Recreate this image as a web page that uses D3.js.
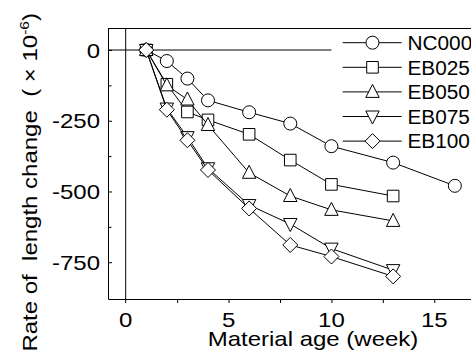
<!DOCTYPE html>
<meta charset="utf-8">
<style>
body { margin: 0; background: #fff; }
svg { display: block; }
text { font-family: "Liberation Sans", Arial, sans-serif; font-size: 20px; fill: #000; white-space: pre; }
.line { fill: none; stroke: #000; stroke-width: 1px; }
.mark { fill: #fff; stroke: #000; stroke-width: 1px; }
.axis path, .axis line { stroke: #000; stroke-width: 1px; }
</style>
<svg width="471" height="354"></svg>
<script src="https://d3js.org/d3.v7.min.js"></script>
<script>

// values
var weeks = [1, 2, 3, 4, 6, 8, 10, 13, 16];
var seriesNames = ["NC000", "EB025", "EB050", "EB075", "EB100"];
var markerTypes = ["circle", "square", "up", "down", "diamond"];
var nc000 = [0, -39, -101, -178, -220, -260, -340, -398, -480];
var eb025 = [0, -121, -219, -247, -298, -389, -475, -516];
var eb050 = [0, -125, -175, -265, -434, -516, -565, -604];
var eb075 = [0, -207, -308, -418, -548, -615, -702, -778];
var eb100 = [0, -211, -319, -424, -560, -689, -730, -800];
var seriesValues = [nc000, eb025, eb050, eb075, eb100];

var xMajor = [0, 5, 10, 15];
var xTicks = [2.5, 5, 7.5, 10, 12.5, 15, 17.5];
var yMajor = [0, -250, -500, -750];
var yMinor = [-125, -375, -625];

var svg = d3.select("svg");

var x = d3.scaleLinear().domain([-0.86, 17.5]).range([108, 485.7]),
    y = d3.scaleLinear().domain([-880, 76]).range([299, 28.5]);

var sx = 1.2;   // axis text is stretched along the baseline
var lsx = 1.04; // legend text a lot less

// markers, centred on 0,0
function marker(type) {
  if (type == "circle") return "M6.5,0A6.5,6.5 0 1,1 -6.5,0A6.5,6.5 0 1,1 6.5,0Z";
  if (type == "square") return "M-5.8,-5.8H5.8V5.8H-5.8Z";
  if (type == "up") return "M0,-7.5L6.7,5.5H-6.7Z";
  if (type == "down") return "M0,7.5L6.7,-5.5H-6.7Z";
  return "M0,-7.5L7.5,0L0,7.5L-7.5,0Z";
}

// frame top
svg.append("line")
    .attr("x1", x(-0.86)).attr("x2", 471)
    .attr("y1", y(76)).attr("y2", y(76))
    .attr("stroke", "#000");

// bottom axis
var gx = svg.append("g")
    .attr("class", "axis")
    .attr("transform", "translate(0," + y(-880) + ")")
    .call(d3.axisBottom(x).tickValues(xTicks).tickSize(4).tickSizeOuter(0).tickFormat(""));

xMajor.forEach(function(v) {
  svg.append("text")
      .attr("transform", "translate(" + x(v) + "," + (y(-880) + 27.7) + ") scale(" + sx + ",1)")
      .attr("text-anchor", "middle")
      .text(v);
});

// left axis, ticks pointing inwards
var gy = svg.append("g")
    .attr("class", "axis")
    .attr("transform", "translate(" + x(-0.86) + ",0)")
    .call(d3.axisLeft(y).tickValues(yMajor.concat(yMinor)).tickSize(-4).tickSizeOuter(0)
      .tickFormat(function(d) { return yMajor.indexOf(d) >= 0 ? String(d) : ""; }));

gy.selectAll(".tick text")
    .attr("x", -8 / sx)
    .attr("dy", "0.36em")
    .attr("transform", "scale(" + sx + ",1)")
    .style("font-size", "20px")
    .style("font-family", "'Liberation Sans', Arial, sans-serif");
gy.selectAll(".tick line").filter(function(d) { return yMinor.indexOf(d) >= 0; }).attr("x2", 3.5);

// zero lines
svg.append("line")
    .attr("x1", x(0)).attr("x2", x(0))
    .attr("y1", y(76)).attr("y2", y(-880) + 4)
    .attr("stroke", "#000");
svg.append("line")
    .attr("x1", x(-0.86)).attr("x2", x(10))
    .attr("y1", y(0)).attr("y2", y(0))
    .attr("stroke", "#000");

// series
var line = d3.line()
    .x(function(d) { return x(d.week); })
    .y(function(d) { return y(d.value); });

seriesNames.forEach(function(name, i) {
  var pts = seriesValues[i].map(function(v, j) { return {week: weeks[j], value: v}; });
  var g = svg.append("g").attr("class", "series");
  g.append("path").attr("class", "line").attr("d", line(pts));
  g.selectAll("path.mark")
      .data(pts)
    .enter().append("path")
      .attr("class", "mark")
      .attr("transform", function(d) { return "translate(" + x(d.week) + "," + y(d.value) + ")"; })
      .attr("d", marker(markerTypes[i]));
});

// legend
var legend = svg.selectAll(".legend")
    .data(seriesNames)
  .enter().append("g")
    .attr("class", "legend")
    .attr("transform", function(d, i) { return "translate(0," + (42.7 + i * 24.6) + ")"; });

legend.append("line")
    .attr("x1", 342.7).attr("x2", 401.7)
    .attr("stroke", "#000");
legend.append("path")
    .attr("class", "mark")
    .attr("transform", "translate(372.5,0)")
    .attr("d", function(d, i) { return marker(markerTypes[i]); });
legend.append("text")
    .attr("transform", "translate(407.5,7.2) scale(" + lsx + ",1)")
    .text(function(d) { return d; });

// axis titles
svg.append("text")
    .attr("transform", "translate(313,346) scale(" + sx + ",1)")
    .attr("text-anchor", "middle")
    .text("Material age (week)");

var yt = svg.append("text")
    .attr("transform", "translate(37,13) rotate(-90) scale(" + sx + ",1)")
    .attr("text-anchor", "end");
yt.append("tspan").text("Rate of  length change  ( \u00d7 10");
yt.append("tspan").attr("dy", -8).style("font-size", "13px").text("-6");
yt.append("tspan").attr("dy", 8).text(")");

</script>
